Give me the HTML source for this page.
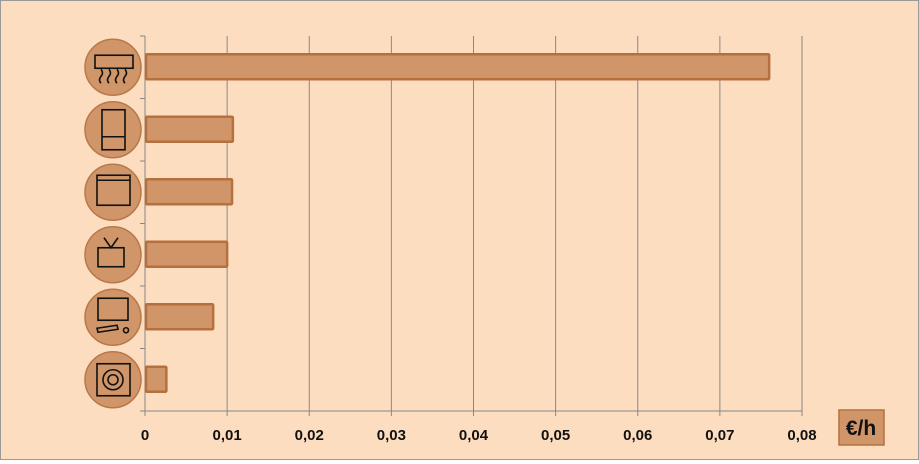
<!DOCTYPE html>
<html><head><meta charset="utf-8"><style>
body{margin:0;background:#fff}
#c{position:relative;width:917px;height:458px;border:1px solid #9a9a9a;background:#FDDDC0;font-family:"Liberation Sans",sans-serif}
</style></head><body>
<div id="c">
<svg id="s" width="917" height="458"></svg>
</div>
<script>
const categories=["air-conditioner","fridge","oven","tv","computer","washing-machine"];
const values=[0.076,0.0107,0.0106,0.0100,0.0083,0.0026];
const ticks=[0,0.01,0.02,0.03,0.04,0.05,0.06,0.07,0.08];
const tickLabels=["0","0,01","0,02","0,03","0,04","0,05","0,06","0,07","0,08"];
const NS="http://www.w3.org/2000/svg";
const s=document.getElementById('s');
const X0=144,X1=801,Y0=35,Y1=410;
const x=v=>X0+(v-0)/(0.08)*(X1-X0);
const band=(Y1-Y0)/categories.length;
const y=i=>Y0+i*band;
function mk(t,a,p){const e=document.createElementNS(NS,t);for(const k in a)e.setAttribute(k,a[k]);(p||s).appendChild(e);return e;}
ticks.forEach((t,i)=>{
 const g=mk('line',{x1:x(t),x2:x(t),y1:Y0,y2:Y1+5,stroke:'#888','stroke-width':1});
 
 
 const l=mk('text',{x:x(t),y:Y1+29,'text-anchor':'middle','font-size':15,'font-weight':'bold',fill:'#111'});
 l.textContent=tickLabels[i];
 
 
});
mk('line',{x1:X0,x2:X1,y1:Y1,y2:Y1,stroke:'#888'});
mk('line',{x1:X0,x2:X0,y1:Y0,y2:Y1,stroke:'#888'});
for(let i=0;i<=categories.length;i++)mk('line',{x1:X0-5,x2:X0,y1:y(i),y2:y(i),stroke:'#888'});
categories.forEach((c,i)=>{
 const cy=y(i)+band/2;
 const b=mk('rect',{x:X0+1,y:cy-13,width:x(values[i])-X0-1,height:25,fill:'#D0966A',stroke:'#B5703D','stroke-width':2.5,rx:1});
 
 
 const ci=mk('circle',{cx:112,cy:cy,r:28,fill:'#D0966A',stroke:'#B8784A','stroke-width':1.5});
 
 
 const g=mk('g',{fill:'none',stroke:'#111','stroke-width':1.6});
 if(i==0){mk('rect',{x:94,y:cy-12,width:38,height:13},g);for(let k=0;k<4;k++)mk('path',{d:`M${100+k*8} ${cy+2} q3 4 0 7 q-3 4 0 7`},g);}
 if(i==1){mk('rect',{x:101,y:cy-20,width:23,height:40},g);mk('line',{x1:101,x2:124,y1:cy+7,y2:cy+7},g);}
 if(i==2){mk('rect',{x:96,y:cy-17,width:33,height:30},g);mk('line',{x1:96,x2:129,y1:cy-12,y2:cy-12},g);}
 if(i==3){mk('rect',{x:97,y:cy-7,width:26,height:19},g);mk('path',{d:`M103 ${cy-17} L110 ${cy-7} L117 ${cy-17}`},g);}
 if(i==4){mk('rect',{x:97,y:cy-19,width:30,height:22},g);mk('path',{d:`M96 ${cy+11} l20 -3 l1 4 l-20 3z`},g);mk('circle',{cx:125,cy:cy+13,r:2.5},g);}
 if(i==5){mk('rect',{x:96,y:cy-16,width:33,height:32},g);mk('circle',{cx:112,cy:cy,r:10},g);mk('circle',{cx:112,cy:cy,r:5},g);}
});
const ub=mk('rect',{x:838,y:409,width:45,height:35,fill:'#D0966A',stroke:'#B5703D','stroke-width':1.5});


const ut=mk('text',{x:860,y:434,'text-anchor':'middle','font-size':21,'font-weight':'bold',fill:'#111'});
ut.textContent='€/h';


</script>
</body></html>
